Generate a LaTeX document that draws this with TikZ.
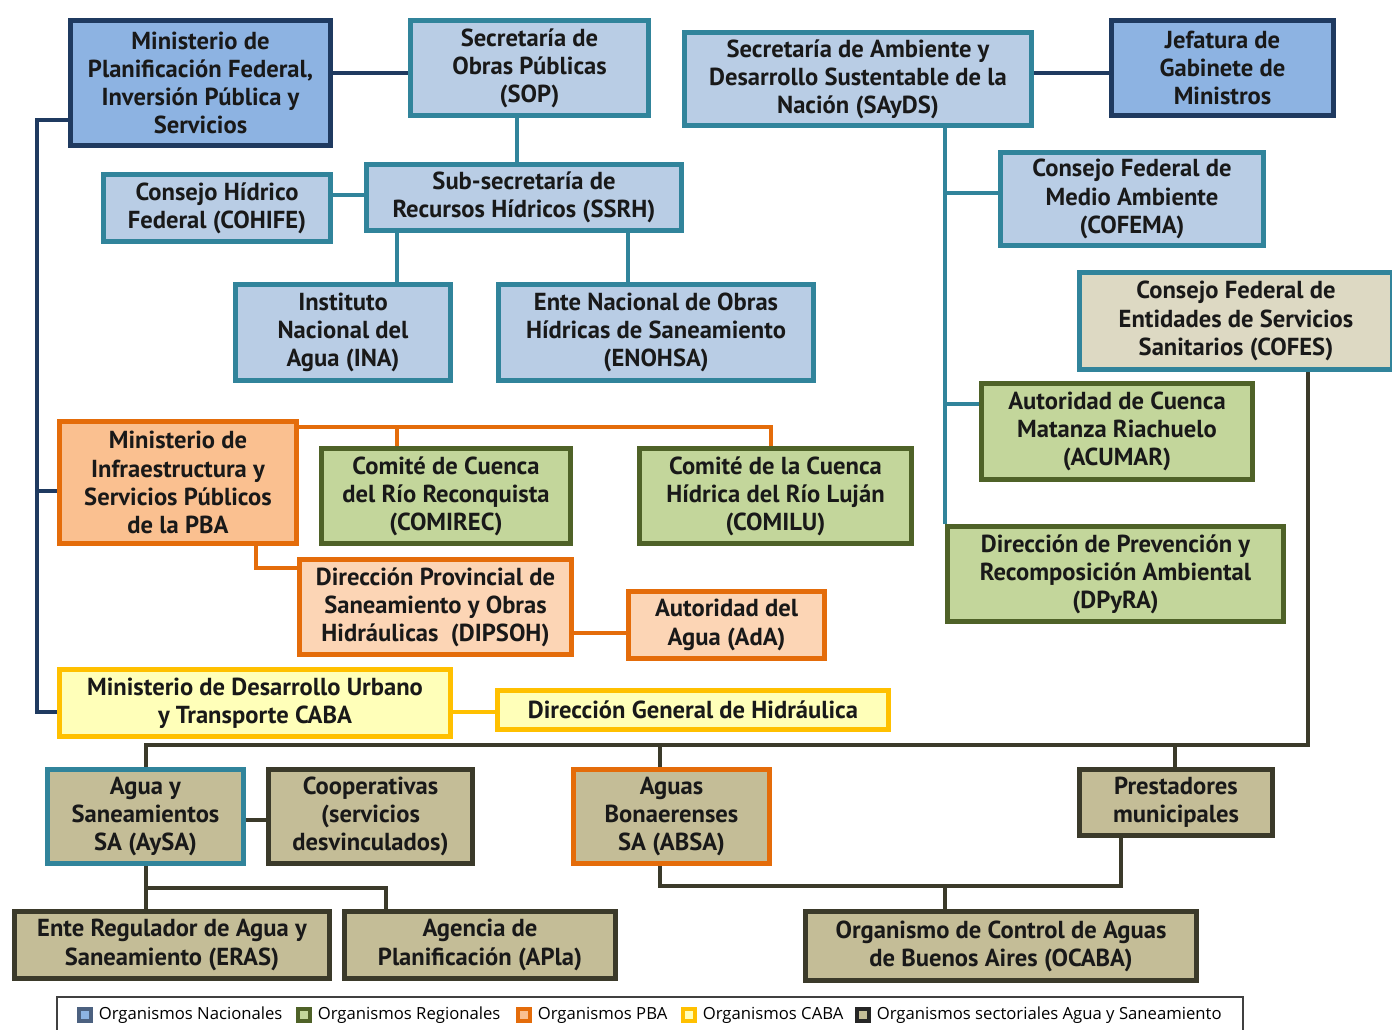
\documentclass[tikz,border=0pt]{standalone}
\usepackage{fontspec}
\setmainfont{PT Sans}
\newfontfamily\lgfont{Open Sans}
\usetikzlibrary{positioning}
\definecolor{nacb}{HTML}{1F3A60}
\definecolor{nacf}{HTML}{8DB3E2}
\definecolor{secb}{HTML}{31849B}
\definecolor{secf}{HTML}{B9CDE5}
\definecolor{regb}{HTML}{4F6228}
\definecolor{regf}{HTML}{C3D69B}
\definecolor{pbab}{HTML}{E46C0A}
\definecolor{pbaf}{HTML}{FAC090}
\definecolor{pbal}{HTML}{FCD5B5}
\definecolor{cabb}{HTML}{FFC000}
\definecolor{cabf}{HTML}{FFFFB9}
\definecolor{asb}{HTML}{3B3A2A}
\definecolor{asf}{HTML}{C4BD97}
\definecolor{asl}{HTML}{DDD9C3}
\tikzset{
	org/.style={draw, line width=2.8pt, align=center, inner sep=0pt, text=black!90, font=\bfseries\fontsize{14}{16}\selectfont},
	sz/.style 2 args={minimum width=#1*0.02cm, minimum height=#2*0.02cm},
	nac/.style={org, draw=nacb, fill=nacf},
	sec/.style={org, draw=secb, fill=secf},
	reg/.style={org, draw=regb, fill=regf},
	pba/.style={org, draw=pbab, fill=pbaf},
	pbal/.style={org, draw=pbab, fill=pbal},
	caba/.style={org, draw=cabb, fill=cabf},
	as/.style={org, draw=asb, fill=asf},
	ln/.style={line width=1.8pt},
	lgsq/.style={draw, line width=2.5pt, minimum size=0.24cm, inner sep=0pt},
	lgtx/.style={inner sep=0pt, font=\lgfont\fontsize{9.5}{11}\selectfont}
}
\begin{document}
\begin{tikzpicture}[x=0.02cm,y=-0.02cm]
	\useasboundingbox (0,0) rectangle (1392,1030);
	\node[nac, sz={260}{125}] (mpf) at (200.5,83) {Ministerio de\\Planificación Federal,\\Inversión Pública y\\Servicios};
	\node[sec, sz={238}{95}] (sop) at (529.5,68) {Secretaría de\\Obras Públicas\\(SOP)};
	\node[sec, sz={347}{93}] (sayds) at (858,79) {Secretaría de Ambiente y\\Desarrollo Sustentable de la\\Nación (SAyDS)};
	\node[nac, sz={222}{95}] (jgm) at (1222.5,68) {Jefatura de\\Gabinete de\\Ministros};
	\node[sec, sz={227}{67}] (cohife) at (217,208) {Consejo Hídrico\\Federal (COHIFE)};
	\node[sec, sz={315}{66}] (ssrh) at (524,197.5) {Sub-secretaría de\\Recursos Hídricos (SSRH)};
	\node[sec, sz={263}{93}] (cofema) at (1132,199) {Consejo Federal de\\Medio Ambiente\\(COFEMA)};
	\node[sec, sz={215}{96}] (ina) at (343,332.5) {Instituto\\Nacional del\\Agua (INA)};
	\node[sec, sz={315}{96}] (enohsa) at (656,332.5) {Ente Nacional de Obras\\Hídricas de Saneamiento\\(ENOHSA)};
	\node[sec, fill=asl, sz={313}{97}] (cofes) at (1236,321) {Consejo Federal de\\Entidades de Servicios\\Sanitarios (COFES)};
	\node[reg, sz={271}{96}] (acumar) at (1117,431.5) {Autoridad de Cuenca\\Matanza Riachuelo\\(ACUMAR)};
	\node[pba, sz={237}{122}] (mips) at (178,482.5) {Ministerio de\\Infraestructura y\\Servicios Públicos\\de la PBA};
	\node[reg, sz={249}{95}] (comirec) at (446,496) {Comité de Cuenca\\del Río Reconquista\\(COMIREC)};
	\node[reg, sz={272}{95}] (comilu) at (775.5,496) {Comité de la Cuenca\\Hídrica del Río Luján\\(COMILU)};
	\node[reg, sz={336}{95}] (dpyra) at (1115.5,574) {Dirección de Prevención y\\Recomposición Ambiental\\(DPyRA)};
	\node[pbal, sz={272}{95}] (dipsoh) at (435.5,607) {Dirección Provincial de\\Saneamiento y Obras\\Hidráulicas~~(DIPSOH)};
	\node[pbal, sz={196}{67}] (ada) at (726.5,625) {Autoridad del\\Agua (AdA)};
	\node[caba, sz={391}{67}] (mdu) at (255,703) {Ministerio de Desarrollo Urbano\\y Transporte CABA};
	\node[caba, sz={391}{39}] (dgh) at (693,710) {Dirección General de Hidráulica};
	\node[as, draw=secb, sz={196}{94}] (aysa) at (145.5,816.5) {Agua y\\Saneamientos\\SA (AySA)};
	\node[as, sz={204}{94}] (coop) at (370.5,816.5) {Cooperativas\\(servicios\\desvinculados)};
	\node[as, draw=pbab, sz={196}{94}] (absa) at (671.5,816.5) {Aguas\\Bonaerenses\\SA (ABSA)};
	\node[as, sz={193}{66}] (prest) at (1176,802.5) {Prestadores\\municipales};
	\node[as, sz={315}{67}] (eras) at (172,945) {Ente Regulador de Agua y\\Saneamiento (ERAS)};
	\node[as, sz={271}{67}] (apla) at (480,945) {Agencia de\\Planificación (APla)};
	\node[as, sz={391}{69}] (ocaba) at (1001,946) {Organismo de Control de Aguas\\de Buenos Aires (OCABA)};
	\coordinate (lb) at (37,712);
	\coordinate (sb) at (945,0);
	\draw[ln, nacb] (mpf.east |- 0,73) -- (sop.west |- 0,73);
	\draw[ln, nacb] (sayds.east |- 0,73) -- (jgm.west |- 0,73);
	\draw[ln, nacb] (mpf.west |- 0,120) -| (lb) -- (mdu.west |- lb);
	\draw[ln, nacb] (lb |- 0,491) -- (mips.west |- 0,491);
	\draw[ln, secb] (sop.south -| 517,0) -- (ssrh.north -| 517,0);
	\draw[ln, secb] (cohife.east |- 0,195) -- (ssrh.west |- 0,195);
	\draw[ln, secb] (ssrh.south -| 397,0) -- (ina.north -| 397,0);
	\draw[ln, secb] (ssrh.south -| 628,0) -- (enohsa.north -| 628,0);
	\draw[ln, secb] (sayds.south -| sb) -- (dpyra.north -| sb);
	\draw[ln, secb] (sb |- 0,193) -- (cofema.west |- 0,193);
	\draw[ln, secb] (sb |- 0,404) -- (acumar.west |- 0,404);
	\draw[ln, pbab] (mips.east |- 0,427) -| (comilu.north -| 771,0);
	\draw[ln, pbab] (397,427) -- (comirec.north -| 397,0);
	\draw[ln, pbab] (mips.south -| 256,0) |- (dipsoh.west |- 0,568);
	\draw[ln, pbab] (dipsoh.east |- 0,633) -- (ada.west |- 0,633);
	\draw[ln, cabb] (mdu.east |- 0,712) -- (dgh.west |- 0,712);
	\draw[ln, asb] (aysa.north -| 146,0) |- (1308,745) -- (cofes.south -| 1308,0);
	\draw[ln, asb] (660,745) -- (absa.north -| 660,0);
	\draw[ln, asb] (1175,745) -- (prest.north -| 1175,0);
	\draw[ln, asb, line width=2.5pt] (aysa.east |- 0,820) -- (coop.west |- 0,820);
	\draw[ln, asb] (aysa.south -| 146,0) -- (eras.north -| 146,0);
	\draw[ln, asb] (146,888) -| (apla.north -| 386,0);
	\draw[ln, asb] (absa.south -| 660,0) |- (1121,886) -- (prest.south -| 1121,0);
	\draw[ln, asb] (945,886) -- (ocaba.north -| 945,0);
	\draw[line width=0.8pt, black!75] (57,997) rectangle (1243,1040);
	\node[lgsq, draw=nacb!80, fill=nacf] (l1) at (85,1015) {};
	\node[lgtx, right=3pt of l1] (t1) {Organismos Nacionales};
	\node[lgsq, draw=regb, fill=regf] (l2) at (304,1015) {};
	\node[lgtx, right=3pt of l2] (t2) {Organismos Regionales};
	\node[lgsq, draw=pbab, fill=pbaf] (l3) at (524,1015) {};
	\node[lgtx, right=3pt of l3] (t3) {Organismos PBA};
	\node[lgsq, draw=cabb, fill=cabf] (l4) at (689,1015) {};
	\node[lgtx, right=3pt of l4] (t4) {Organismos CABA};
	\node[lgsq, draw=black!85, fill=asf] (l5) at (863,1015) {};
	\node[lgtx, right=3pt of l5] (t5) {Organismos sectoriales Agua y Saneamiento};
\end{tikzpicture}
\end{document}
